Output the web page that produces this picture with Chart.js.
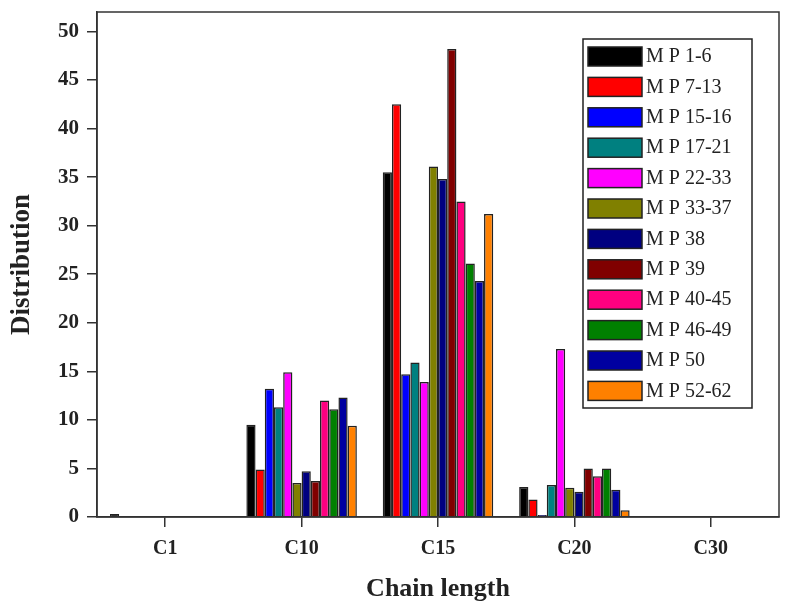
<!DOCTYPE html>
<html>
<head>
<meta charset="utf-8">
<title>Distribution by chain length</title>
<script src="https://cdn.jsdelivr.net/npm/chart.js@4/dist/chart.umd.min.js"></script>
<style>
    html, body { margin: 0; padding: 0; background: #fff; }
    #chart { display: block; }
</style>
</head>
<body>
<canvas id="chart" width="785" height="613"></canvas>
<script>
// Categories and series
const categories = ['C1', 'C10', 'C15', 'C20', 'C30'];
const seriesLabels = ['M P 1-6', 'M P 7-13', 'M P 15-16', 'M P 17-21', 'M P 22-33', 'M P 33-37',
    'M P 38', 'M P 39', 'M P 40-45', 'M P 46-49', 'M P 50', 'M P 52-62'];
const seriesColors = ['#000000', '#ff0000', '#0000ff', '#008080', '#ff00ff', '#808000',
    '#000080', '#800000', '#ff0080', '#008000', '#0000a0', '#ff8000'];

const mp1to6 = [0.3, 9.5, 35.5, 3.1, 0];
const mp7to13 = [0, 4.9, 42.5, 1.8, 0];
const mp15to16 = [0, 13.2, 14.7, 0.2, 0];
const mp17to21 = [0, 11.3, 15.9, 3.3, 0];
const mp22to33 = [0, 14.9, 13.9, 17.3, 0];
const mp33to37 = [0, 3.5, 36.1, 3.0, 0];
const mp38 = [0, 4.7, 34.8, 2.6, 0];
const mp39 = [0, 3.7, 48.2, 5.0, 0];
const mp40to45 = [0, 12.0, 32.5, 4.2, 0];
const mp46to49 = [0, 11.1, 26.1, 5.0, 0];
const mp50 = [0, 12.3, 24.3, 2.8, 0];
const mp52to62 = [0, 9.4, 31.2, 0.7, 0];

const seriesValues = [mp1to6, mp7to13, mp15to16, mp17to21, mp22to33, mp33to37,
    mp38, mp39, mp40to45, mp46to49, mp50, mp52to62];

const yTicks = [0, 5, 10, 15, 20, 25, 30, 35, 40, 45, 50];

const axisColor = '#333';
const serif = '"Liberation Serif", "DejaVu Serif", serif';

// Frame around the plot + boxed legend inside the plot area
const framePlugin = {
    id: 'frame',
    afterDraw: function(chart) {
        const ctx = chart.ctx;
        const area = chart.chartArea;
        ctx.save();
        ctx.strokeStyle = axisColor;
        ctx.lineWidth = 1.5;
        ctx.strokeRect(area.left, area.top, area.right - area.left, area.bottom - area.top);

        // legend box
        const boxLeft = area.right - 196;
        const boxTop = area.top + 27;
        const boxW = 169;
        const boxH = 369;
        const rowH = 30.4;
        ctx.fillStyle = '#fff';
        ctx.fillRect(boxLeft, boxTop, boxW, boxH);
        ctx.strokeStyle = '#222';
        ctx.lineWidth = 1.5;
        ctx.strokeRect(boxLeft, boxTop, boxW, boxH);

        ctx.font = '20px ' + serif;
        ctx.textBaseline = 'middle';
        ctx.textAlign = 'left';
        chart.data.datasets.forEach(function(ds, i) {
            const y = boxTop + 8 + i * rowH;
            ctx.fillStyle = ds.backgroundColor;
            ctx.fillRect(boxLeft + 5, y, 54, 19);
            ctx.strokeStyle = '#222';
            ctx.lineWidth = 1.5;
            ctx.strokeRect(boxLeft + 5, y, 54, 19);
            ctx.fillStyle = '#222';
            ctx.fillText(ds.label, boxLeft + 63, y + 10);
        });
        ctx.restore();
    }
};

function buildDatasets() {
    return seriesLabels.map(function(label, i) {
        return {
            label: label,
            data: seriesValues[i],
            backgroundColor: seriesColors[i],
            borderColor: '#222',
            borderWidth: 1.5,
            barPercentage: 1.0,
            categoryPercentage: 0.81
        };
    });
}

new Chart(document.getElementById('chart'), {
    type: 'bar',
    data: {
        labels: categories,
        datasets: buildDatasets()
    },
    options: {
        responsive: false,
        animation: false,
        layout: { padding: { left: 0, top: 12, right: 6, bottom: 0 } },
        plugins: {
            legend: { display: false },
            tooltip: { enabled: false }
        },
        scales: {
            x: {
                grid: {
                    offset: false,
                    drawOnChartArea: false,
                    drawTicks: true,
                    tickLength: 10,
                    color: axisColor,
                    lineWidth: 1.5
                },
                border: { display: true, color: axisColor, width: 1.5 },
                ticks: {
                    color: '#222',
                    padding: 10,
                    font: { family: serif, size: 20, weight: 'bold' }
                },
                title: {
                    display: true,
                    text: 'Chain length',
                    color: '#222',
                    padding: { top: 4, bottom: 8 },
                    font: { family: serif, size: 26, weight: 'bold' }
                },
                afterFit: function(scale) {
                    scale.height = 96;
                    scale.paddingLeft = 0;
                    scale.paddingRight = 0;
                }
            },
            y: {
                min: 0,
                max: 52,
                grid: {
                    drawOnChartArea: false,
                    drawTicks: true,
                    tickLength: 10,
                    color: axisColor,
                    lineWidth: 1.5
                },
                border: { display: true, color: axisColor, width: 1.5 },
                afterBuildTicks: function(scale) {
                    scale.ticks = yTicks.map(function(v) { return { value: v }; });
                },
                ticks: {
                    color: '#222',
                    padding: 8,
                    font: { family: serif, size: 21, weight: 'bold' }
                },
                title: {
                    display: true,
                    text: 'Distribution',
                    color: '#222',
                    padding: { top: 6, bottom: 0 },
                    font: { family: serif, size: 27, weight: 'bold' }
                },
                afterFit: function(scale) {
                    scale.width = 97;
                    scale.paddingTop = 0;
                    scale.paddingBottom = 0;
                }
            }
        }
    },
    plugins: [framePlugin]
});
</script>
</body>
</html>
